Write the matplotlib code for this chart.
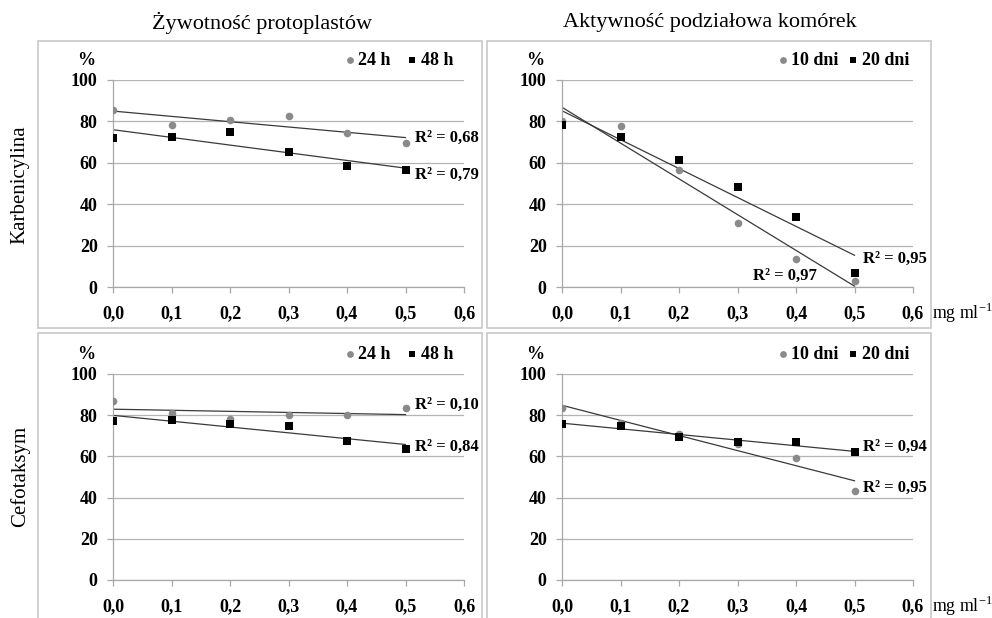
import matplotlib
matplotlib.use('Agg')
import matplotlib.pyplot as plt
import numpy as np
from matplotlib.patches import Rectangle

plt.rcParams['font.family'] = ['Liberation Serif', 'DejaVu Serif']

dose = [0.0, 0.1, 0.2, 0.3, 0.4, 0.5]

# Karbenicylina
karb_viab_24h = [85.6, 78.3, 80.9, 82.7, 74.3, 69.7]
karb_viab_48h = [72.2, 72.5, 75.1, 65.4, 58.4, 56.6]
karb_div_10d = [80.0, 78.0, 56.5, 30.9, 13.4, 2.9]
karb_div_20d = [78.5, 72.5, 61.5, 48.5, 33.8, 6.6]

# Cefotaksym
cefo_viab_24h = [86.9, 81.0, 78.1, 80.1, 80.2, 83.3]
cefo_viab_48h = [77.3, 77.6, 75.9, 75.0, 67.6, 63.7]
cefo_div_10d = [83.5, 76.0, 71.0, 66.0, 59.0, 43.4]
cefo_div_20d = [75.9, 74.7, 69.4, 66.9, 66.9, 61.9]

col_titles = ['Żywotność protoplastów', 'Aktywność podziałowa komórek']
row_titles = ['Karbenicylina', 'Cefotaksym']
viab_labels = ['24 h', '48 h']
div_labels = ['10 dni', '20 dni']

GREY = '#8a8a8a'
W, H = 992, 618


def px_rect(left, top, right, bottom):
    return [left / W, 1 - bottom / H, (right - left) / W, (bottom - top) / H]


def draw_panel(ax, circles, squares, labels, leg_x, r2_texts, r2_pos):
    for y, m, c, s in ((circles, 'o', GREY, 30), (squares, 's', 'black', 32)):
        ax.scatter(dose, y, marker=m, color=c, s=s, zorder=3, linewidths=0)
        k, b = np.polyfit(dose, y, 1)
        xs = np.array([dose[0], dose[-1]])
        ax.plot(xs, k * xs + b, color='#3a3a3a', lw=0.9, zorder=2)
    ax.set_xlim(0, 0.6)
    ax.set_ylim(0, 100)
    ax.set_xticks(np.arange(0, 0.61, 0.1))
    ax.set_xticklabels([f'{v:.1f}'.replace('.', ',') for v in np.arange(0, 0.61, 0.1)])
    ax.set_yticks(range(0, 101, 20))
    ax.grid(axis='y', color='#b4b4b4', lw=0.9)
    ax.set_axisbelow(True)
    for sp in ('top', 'right'):
        ax.spines[sp].set_visible(False)
    for sp in ('left', 'bottom'):
        ax.spines[sp].set_color('#a8a8a8')
        ax.spines[sp].set_linewidth(0.9)
    ax.tick_params(axis='both', colors='#a8a8a8', length=4, width=0.9, labelcolor='black',
                   labelsize=13)
    ax.tick_params(axis='x', pad=9)
    ax.tick_params(axis='y', pad=7)
    for t in ax.get_xticklabels() + ax.get_yticklabels():
        t.set_fontweight('bold')
    ax.text(-0.046, 109.5, '%', fontsize=13, fontweight='bold', ha='center', va='center',
            clip_on=False)
    # legend
    ax.scatter([leg_x[0]], [109.5], marker='o', color=GREY, s=24, clip_on=False, linewidths=0)
    ax.text(leg_x[0] + 0.013, 109.5, labels[0], fontsize=13, fontweight='bold', va='center',
            clip_on=False)
    ax.scatter([leg_x[1]], [109.5], marker='s', color='black', s=24, clip_on=False,
               linewidths=0)
    ax.text(leg_x[1] + 0.016, 109.5, labels[1], fontsize=13, fontweight='bold', va='center',
            clip_on=False)
    for txt, (x, y) in zip(r2_texts, r2_pos):
        ax.text(x, y, txt, fontsize=12, fontweight='bold', va='center', clip_on=False)


fig = plt.figure(figsize=(W / 100, H / 100), dpi=100)

# panel frames
for l, t, r, b in ((38, 41, 482, 328), (487, 41, 931, 328),
                   (38, 333, 482, 640), (487, 333, 931, 640)):
    fig.patches.append(Rectangle((l / W, 1 - b / H), (r - l) / W, (b - t) / H,
                                 transform=fig.transFigure, fill=False,
                                 edgecolor='#c8c8c8', lw=1.2))

ax1 = fig.add_axes(px_rect(113, 80, 464, 287))
draw_panel(ax1, karb_viab_24h, karb_viab_48h, viab_labels, (0.405, 0.511),
           ['R² = 0,68', 'R² = 0,79'], [(0.516, 72), (0.516, 54)])
ax2 = fig.add_axes(px_rect(562, 80, 913, 287))
draw_panel(ax2, karb_div_10d, karb_div_20d, div_labels, (0.378, 0.497),
           ['R² = 0,97', 'R² = 0,95'], [(0.326, 5.3), (0.515, 13.5)])
ax3 = fig.add_axes(px_rect(113, 374, 464, 580))
draw_panel(ax3, cefo_viab_24h, cefo_viab_48h, viab_labels, (0.405, 0.511),
           ['R² = 0,10', 'R² = 0,84'], [(0.516, 84.8), (0.516, 64.8)])
ax4 = fig.add_axes(px_rect(562, 374, 913, 580))
draw_panel(ax4, cefo_div_10d, cefo_div_20d, div_labels, (0.378, 0.497),
           ['R² = 0,95', 'R² = 0,94'], [(0.515, 44.6), (0.515, 64.8)])

fig.text(262 / W, 1 - 23 / H, col_titles[0], fontsize=16, ha='center', va='center')
fig.text(710 / W, 1 - 23 / H, col_titles[1], fontsize=16, ha='center', va='center')
fig.text(20 / W, 1 - 185 / H, row_titles[0], fontsize=15, rotation=90, ha='center', va='center')
fig.text(20 / W, 1 - 476 / H, row_titles[1], fontsize=15, rotation=90, ha='center', va='center')
for y in (313, 606):
    fig.text(932 / W, 1 - y / H, 'mg ml$^{\\mathregular{-1}}$', fontsize=12.8, ha='left',
             va='center')

fig.savefig('out.png', dpi=100, facecolor='white')
